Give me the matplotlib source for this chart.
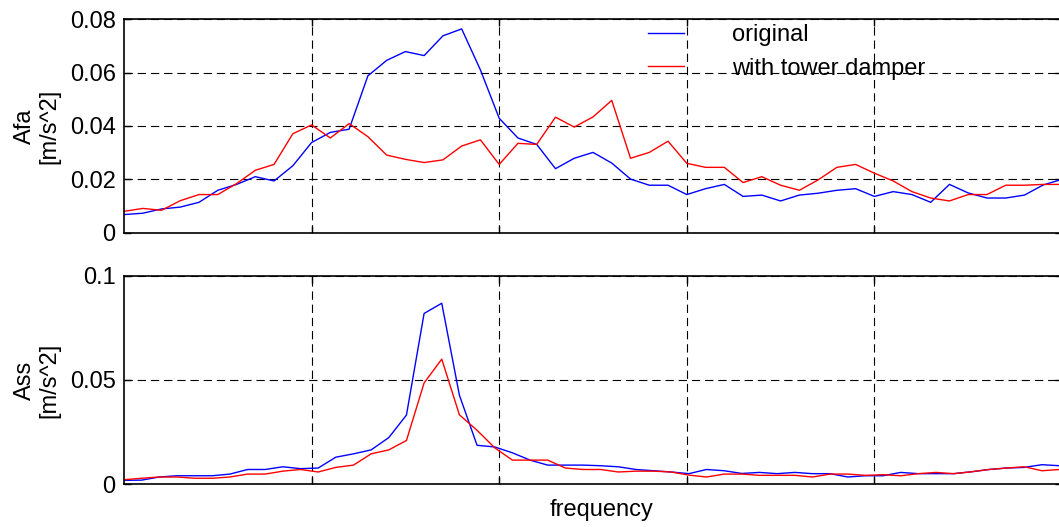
import numpy as np
import matplotlib
matplotlib.use("Agg")
import matplotlib.pyplot as plt

plt.rcParams["font.family"] = ["Liberation Sans", "DejaVu Sans"]
plt.rcParams["lines.scale_dashes"] = False

# top panel: fore-aft acceleration spectrum, step 0.1 on the frequency axis
afa_original = [0.0068, 0.0073, 0.0089, 0.0096, 0.0114, 0.0159, 0.0181, 0.0210, 0.0194, 0.0251,
                0.0338, 0.0376, 0.0388, 0.0588, 0.0646, 0.0679, 0.0664, 0.0738, 0.0764, 0.0610,
                0.0429, 0.0355, 0.0331, 0.0240, 0.0279, 0.0301, 0.0261, 0.0201, 0.0178, 0.0178,
                0.0143, 0.0165, 0.0181, 0.0136, 0.0141, 0.0119, 0.0141, 0.0148, 0.0159, 0.0165,
                0.0136, 0.0154, 0.0143, 0.0114, 0.0181, 0.0149, 0.0130, 0.0130, 0.0141, 0.0179,
                0.0200]
afa_damper = [0.0080, 0.0091, 0.0084, 0.0120, 0.0143, 0.0143, 0.0184, 0.0234, 0.0256, 0.0371,
              0.0404, 0.0355, 0.0409, 0.0360, 0.0291, 0.0275, 0.0263, 0.0273, 0.0325, 0.0348,
              0.0256, 0.0335, 0.0331, 0.0433, 0.0396, 0.0434, 0.0496, 0.0279, 0.0301, 0.0343,
              0.0260, 0.0245, 0.0245, 0.0188, 0.0210, 0.0178, 0.0159, 0.0198, 0.0245, 0.0256,
              0.0223, 0.0194, 0.0154, 0.0130, 0.0119, 0.0143, 0.0143, 0.0178, 0.0178, 0.0181,
              0.0181]

# bottom panel: side-side acceleration spectrum, slightly finer step
ass_original = [0.0019, 0.0020, 0.0035, 0.0041, 0.0041, 0.0041, 0.0049, 0.0071, 0.0071, 0.0084,
                0.0075, 0.0078, 0.0130, 0.0146, 0.0165, 0.0224, 0.0332, 0.0819, 0.0868, 0.0427,
                0.0187, 0.0179, 0.0151, 0.0116, 0.0092, 0.0092, 0.0092, 0.0089, 0.0084, 0.0071,
                0.0065, 0.0059, 0.0051, 0.0071, 0.0065, 0.0052, 0.0057, 0.0051, 0.0057, 0.0051,
                0.0051, 0.0035, 0.0041, 0.0041, 0.0057, 0.0051, 0.0051, 0.0051, 0.0060, 0.0071,
                0.0078, 0.0081, 0.0094, 0.0089]
ass_damper = [0.0022, 0.0029, 0.0035, 0.0035, 0.0029, 0.0029, 0.0035, 0.0049, 0.0049, 0.0063,
              0.0071, 0.0059, 0.0081, 0.0092, 0.0146, 0.0165, 0.0210, 0.0486, 0.0600, 0.0333,
              0.0259, 0.0175, 0.0116, 0.0116, 0.0116, 0.0078, 0.0071, 0.0071, 0.0059, 0.0063,
              0.0063, 0.0059, 0.0044, 0.0035, 0.0049, 0.0049, 0.0043, 0.0043, 0.0043, 0.0035,
              0.0049, 0.0049, 0.0043, 0.0046, 0.0041, 0.0051, 0.0057, 0.0051, 0.0060, 0.0071,
              0.0078, 0.0084, 0.0065, 0.0071]

freq_top = np.arange(len(afa_original)) * 0.1
freq_bot = np.arange(len(ass_original)) * 0.0941

afa_ticks = [0, 0.02, 0.04, 0.06, 0.08]
afa_ticklabels = ["0", "0.02", "0.04", "0.06", "0.08"]
ass_ticks = [0, 0.05, 0.1]
ass_ticklabels = ["0", "0.05", "0.1"]
freq_ticks = [1, 2, 3, 4]

FS = 17
W, H = 1059, 527
fig = plt.figure(figsize=(W / 100, H / 100), dpi=100)

left = 124 / W
width = (1062 - 124) / W
ax1 = fig.add_axes([left, 1 - 232.7 / H, width, 213.4 / H])
ax2 = fig.add_axes([left, 1 - 484.3 / H, width, 208.6 / H])


def style(ax, yticks, ylabels, ymax):
    ax.set_xlim(0, 5)
    ax.set_ylim(0, ymax)
    ax.set_xticks(freq_ticks)
    ax.set_xticklabels([])
    ax.set_yticks(yticks)
    ax.set_yticklabels(ylabels)
    ax.tick_params(direction="in", length=5, width=1, top=True, right=True,
                   labelsize=FS, pad=6, colors="black")
    ax.grid(True, color="black", linestyle=(0, (6, 3.5)), linewidth=0.8)
    for s in ax.spines.values():
        s.set_linewidth(1.2)
        s.set_color("black")


ax1.plot(freq_top, afa_original, color="blue", lw=1.0, label="original")
ax1.plot(freq_top, afa_damper, color="red", lw=1.0, label="with tower damper")
style(ax1, afa_ticks, afa_ticklabels, 0.08)
ax1.set_ylabel("Afa\n[m/s^2]", fontsize=FS, linespacing=1.15)
ax1.yaxis.set_label_coords(-0.068, 0.5)
ax1.legend(loc="upper left", bbox_to_anchor=(0.556, 0.99), frameon=False,
           fontsize=FS, handlelength=1.55, handletextpad=2.0, labelspacing=0.5,
           borderaxespad=0, borderpad=0.1)

ax2.plot(freq_bot, ass_original, color="blue", lw=1.0)
ax2.plot(freq_bot, ass_damper, color="red", lw=1.0)
style(ax2, ass_ticks, ass_ticklabels, 0.1)
ax2.set_ylabel("Ass\n[m/s^2]", fontsize=FS, linespacing=1.15)
ax2.yaxis.set_label_coords(-0.068, 0.5)
ax2.set_xlabel("frequency", fontsize=FS)
ax2.xaxis.set_label_coords((602 - 124) / 938, -0.07)

fig.savefig("out.png", dpi=100)
